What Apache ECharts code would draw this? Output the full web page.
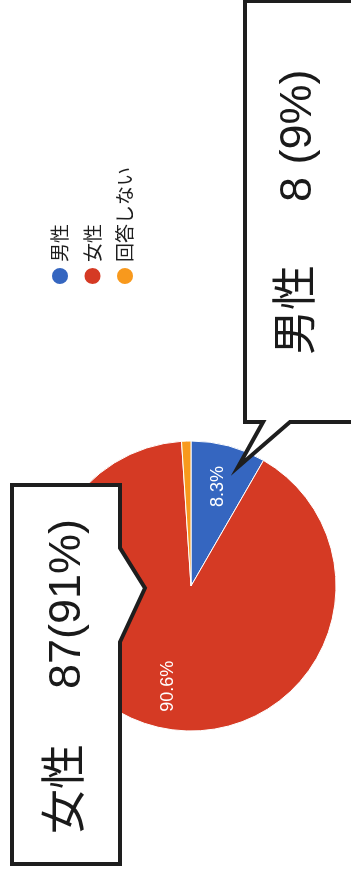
<!DOCTYPE html>
<html>
<head>
<meta charset="utf-8">
<script src="https://cdn.jsdelivr.net/npm/echarts@6/dist/echarts.min.js"></script>
<style>
  html, body { margin: 0; padding: 0; background: #fff; overflow: hidden; width: 351px; height: 870px; }
  /* The chart is laid out landscape and turned a quarter-turn counter-clockwise */
  #chart {
    position: absolute; left: 0; top: 0;
    width: 870px; height: 351px;
    transform-origin: 0 0;
    transform: translate(0, 870px) rotate(-90deg);
  }
</style>
</head>
<body>
<div id="chart"></div>
<script>
// Survey answers: gender of respondents
const categories = ['男性', '女性', '回答しない'];
const counts = [8, 87, 1];
const sliceColors = ['#3566c0', '#d53a24', '#f8991d'];
// Rounded shares printed in the two callout boxes (男性, 女性)
const calloutPercents = [9, 91];

const total = counts.reduce((a, b) => a + b, 0);
const pct = v => (v / total * 100).toFixed(1) + '%';

const pieData = categories.map((name, i) => ({
  name,
  value: counts[i],
  itemStyle: { color: sliceColors[i] }
}));

// Transparent ring that only carries the percentage labels further out
const labelData = categories.map((name, i) => ({
  name,
  value: counts[i],
  label: { show: counts[i] / total > 0.05 }
}));

const chart = echarts.init(document.getElementById('chart'), null, { renderer: 'canvas' });

const calloutFont = '45px "Liberation Sans", "Noto Sans CJK JP", sans-serif';
const border = { stroke: '#1e1e1e', lineWidth: 4, fill: '#fff', lineJoin: 'miter' };
const calloutText = (x, y, text) => ({
  type: 'text', z: 101, x, y,
  style: { text, font: calloutFont, fill: '#1a1a1a', verticalAlign: 'middle', align: 'left' }
});

chart.setOption({
  animation: false,
  backgroundColor: '#fff',
  legend: {
    orient: 'vertical',
    left: 579,
    top: 45,
    icon: 'circle',
    itemWidth: 18,
    itemHeight: 18,
    itemGap: 12.5,
    selectedMode: false,
    data: categories.map((name, i) => ({ name, itemStyle: { color: sliceColors[i] } })),
    textStyle: { fontSize: 19, lineHeight: 18, color: '#1e1e1e', fontFamily: '"Noto Sans CJK JP", sans-serif' }
  },
  series: [
    {
      type: 'pie',
      center: [284, 191],
      radius: [0, 145],
      startAngle: 0,
      clockwise: true,
      silent: true,
      label: { show: false },
      labelLine: { show: false },
      itemStyle: { borderColor: '#fff', borderWidth: 1 },
      data: pieData
    },
    {
      type: 'pie',
      center: [284, 191],
      radius: [55, 145],
      startAngle: 0,
      clockwise: true,
      silent: true,
      itemStyle: { color: 'rgba(0,0,0,0)', borderWidth: 0 },
      label: {
        position: 'inside',
        color: '#fff',
        fontSize: 18,
        fontFamily: '"Liberation Sans", Arial, sans-serif',
        formatter: p => pct(p.value)
      },
      labelLine: { show: false },
      data: labelData
    }
  ],
  graphic: [
    // 女性 callout, pointing into the red slice
    {
      type: 'polygon',
      z: 100,
      shape: { points: [[6, 12], [385, 12], [385, 120], [322, 120], [282, 145], [228, 120], [6, 120]] },
      style: border
    },
    calloutText(36, 68, categories[1]),
    calloutText(181, 68, `${counts[1]}(${calloutPercents[1]}%)`),
    // 男性 callout, pointing into the blue slice
    {
      type: 'polygon',
      z: 100,
      shape: { points: [[448, 245], [869, 245], [869, 430], [448, 430], [448, 290], [403, 238], [448, 263]] },
      style: border
    },
    calloutText(515, 299, categories[0]),
    calloutText(668, 299, `${counts[0]} (${calloutPercents[0]}%)`)
  ]
});
</script>
</body>
</html>
